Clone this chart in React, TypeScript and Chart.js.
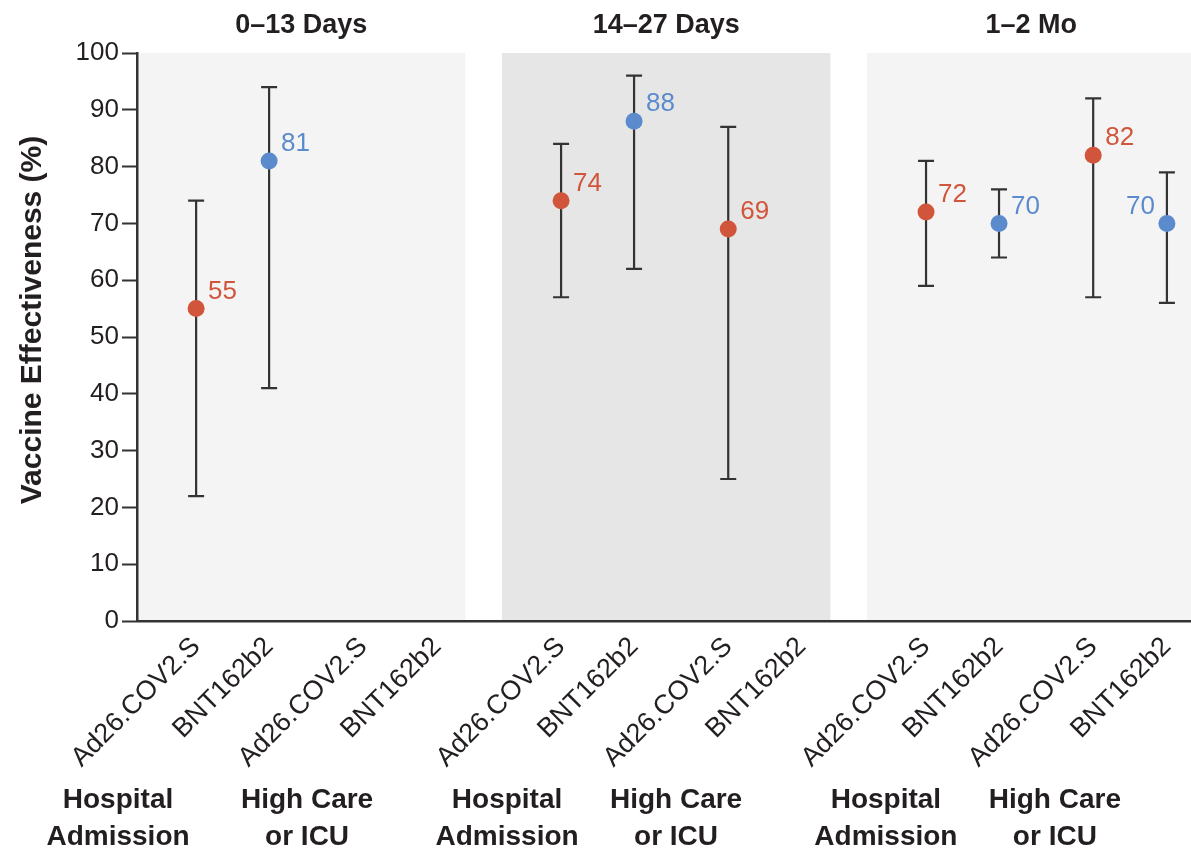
import React, { useEffect, useRef } from "react";
import { Chart, registerables } from "chart.js";

Chart.register(...registerables);

// ---------- data ----------
const panelTitles = ["0–13 Days", "14–27 Days", "1–2 Mo"];
const vaccines = ["Ad26.COV2.S", "BNT162b2", "Ad26.COV2.S", "BNT162b2"];
const outcomes = [
  ["Hospital", "Admission"],
  ["High Care", "or ICU"],
];
// 12 slots: panel x (outcome x vaccine)
const estimates = [55, 81, null, null, 74, 88, 69, null, 72, 70, 82, 70];
const lowerCI = [22, 41, null, null, 57, 62, 25, null, 59, 64, 57, 56];
const upperCI = [74, 94, null, null, 84, 96, 87, null, 81, 76, 92, 79];
const yTicks = [0, 10, 20, 30, 40, 50, 60, 70, 80, 90, 100];

// ---------- layout / style ----------
const W = 1191;
const H = 849;
const PANEL_SPAN = 0.9; // panel width in x-axis units (1 unit = panel stride)
const SLOT_OFFSETS = [0.162, 0.362, 0.62, 0.822];
const X_MAX = 2.888;
const GROUP_LABEL_X = [-0.052, 0.466, 1.014, 1.477, 2.052, 2.515];
const LABEL_ON_LEFT = [false, false, false, false, false, false, false, false, false, false, false, true];
const PANEL_BG = ["#f4f4f4", "#e6e6e6", "#f4f4f4"];
const RED = "#d1553a";
const BLUE = "#5b8bcd";
const INK = "#231f20";
const BAR = "#333333";
const FONT = "'Liberation Sans Narrow', 'Liberation Sans', Arial, sans-serif";
const FONT_B = "'Liberation Sans', Arial, sans-serif";

const slotX = (i: number) => Math.floor(i / 4) + SLOT_OFFSETS[i % 4];
const allLabels: string[] = [];
panelTitles.forEach(() => vaccines.forEach((v) => allLabels.push(v)));
const tickValues = allLabels.map((_, i) => slotX(i));
const colorOf = (i: number) => (vaccines[i % 4].startsWith("BNT") ? BLUE : RED);

const points: { x: number; y: number; i: number }[] = [];
estimates.forEach((v, i) => {
  if (v !== null) points.push({ x: slotX(i), y: v, i });
});

const drawPlugin = {
  id: "customDraw",
  beforeDraw(chart: any) {
    const { ctx, scales } = chart;
    const xs = scales.x;
    const ys = scales.y;
    ctx.save();
    PANEL_BG.forEach((c, p) => {
      const x0 = xs.getPixelForValue(p);
      const x1 = xs.getPixelForValue(p + PANEL_SPAN);
      const y0 = ys.getPixelForValue(100);
      const y1 = ys.getPixelForValue(0);
      ctx.fillStyle = c;
      ctx.fillRect(x0, y0, x1 - x0, y1 - y0);
    });
    ctx.restore();
  },
  beforeDatasetsDraw(chart: any) {
    const { ctx, scales } = chart;
    const xs = scales.x;
    const ys = scales.y;
    ctx.save();
    ctx.strokeStyle = BAR;
    ctx.lineWidth = 2.2;
    points.forEach((p) => {
      const lo = lowerCI[p.i];
      const hi = upperCI[p.i];
      if (lo === null || hi === null) return;
      const px = xs.getPixelForValue(p.x);
      const yl = ys.getPixelForValue(lo);
      const yh = ys.getPixelForValue(hi);
      ctx.beginPath();
      ctx.moveTo(px, yl);
      ctx.lineTo(px, yh);
      ctx.moveTo(px - 8, yl);
      ctx.lineTo(px + 8, yl);
      ctx.moveTo(px - 8, yh);
      ctx.lineTo(px + 8, yh);
      ctx.stroke();
    });
    ctx.restore();
  },
  afterDatasetsDraw(chart: any) {
    const { ctx, scales } = chart;
    const xs = scales.x;
    const ys = scales.y;
    ctx.save();
    ctx.font = `26px ${FONT}`;
    ctx.textBaseline = "middle";
    points.forEach((p) => {
      const px = xs.getPixelForValue(p.x);
      const py = ys.getPixelForValue(p.y);
      ctx.fillStyle = colorOf(p.i);
      if (LABEL_ON_LEFT[p.i]) {
        ctx.textAlign = "right";
        ctx.fillText(String(p.y), px - 12, py - 17);
      } else {
        ctx.textAlign = "left";
        ctx.fillText(String(p.y), px + 12, py - 17);
      }
    });
    ctx.restore();
  },
  afterDraw(chart: any) {
    const { ctx, scales } = chart;
    const xs = scales.x;
    const ys = scales.y;
    ctx.save();
    ctx.fillStyle = INK;
    // panel titles
    ctx.font = `bold 27px ${FONT_B}`;
    ctx.textAlign = "center";
    ctx.textBaseline = "alphabetic";
    panelTitles.forEach((t, p) => {
      const cx = (xs.getPixelForValue(p) + xs.getPixelForValue(p + PANEL_SPAN)) / 2;
      ctx.fillText(t, cx, 33);
    });
    // outcome group labels
    ctx.font = `bold 28px ${FONT_B}`;
    GROUP_LABEL_X.forEach((gx, k) => {
      const lines = outcomes[k % 2];
      const cx = xs.getPixelForValue(gx);
      ctx.fillText(lines[0], cx, 808);
      ctx.fillText(lines[1], cx, 845);
    });
    // y-axis title
    ctx.font = `bold 30px ${FONT_B}`;
    ctx.translate(33, (ys.getPixelForValue(100) + ys.getPixelForValue(0)) / 2 - 17);
    ctx.rotate(-Math.PI / 2);
    ctx.textBaseline = "middle";
    ctx.fillText("Vaccine Effectiveness (%)", 0, 0);
    ctx.restore();
  },
};

export default function App() {
  const ref = useRef<HTMLCanvasElement | null>(null);
  useEffect(() => {
    document.body.style.margin = "0";
    document.body.style.overflow = "hidden";
    if (!ref.current) return;
    const chart = new Chart(ref.current, {
      type: "scatter",
      data: {
        datasets: [
          {
            data: points.map((p) => ({ x: p.x, y: p.y })),
            pointBackgroundColor: points.map((p) => colorOf(p.i)),
            pointBorderWidth: 0,
            pointRadius: 8.5,
            showLine: false,
          },
        ],
      },
      options: {
        animation: false,
        responsive: false,
        devicePixelRatio: 1,
        layout: { autoPadding: false, padding: { top: 53, left: 0, right: 0, bottom: 0 } },
        plugins: { legend: { display: false }, tooltip: { enabled: false }, title: { display: false } },
        scales: {
          x: {
            type: "linear",
            min: 0,
            max: X_MAX,
            afterBuildTicks: (scale: any) => {
              scale.ticks = tickValues.map((v) => ({ value: v }));
            },
            afterFit: (scale: any) => {
              scale.height = H - 621;
              scale.paddingLeft = 0;
              scale.paddingRight = 0;
            },
            ticks: {
              autoSkip: false,
              minRotation: 45,
              maxRotation: 45,
              padding: 10,
              color: INK,
              font: { family: FONT, size: 27 },
              callback: (_v: any, i: number) => allLabels[i],
            },
            grid: { display: false, drawTicks: false },
            border: { display: true, color: BAR, width: 2.5 },
          },
          y: {
            min: 0,
            max: 100,
            afterBuildTicks: (scale: any) => {
              scale.ticks = yTicks.map((v) => ({ value: v }));
            },
            afterFit: (scale: any) => {
              scale.width = 137;
              scale.paddingTop = 0;
              scale.paddingBottom = 0;
            },
            ticks: {
              padding: 3,
              color: INK,
              font: { family: FONT, size: 26 },
            },
            grid: {
              drawOnChartArea: false,
              drawTicks: true,
              tickLength: 15,
              tickColor: BAR,
              tickWidth: 2,
            },
            border: { display: true, color: BAR, width: 2.5 },
          },
        },
      },
      plugins: [drawPlugin],
    } as any);
    return () => chart.destroy();
  }, []);
  return (
    <div style={{ position: "absolute", left: 0, top: 0, width: W, height: H, background: "#fff" }}>
      <canvas ref={ref} width={W} height={H} style={{ width: W, height: H, display: "block" }} />
    </div>
  );
}
